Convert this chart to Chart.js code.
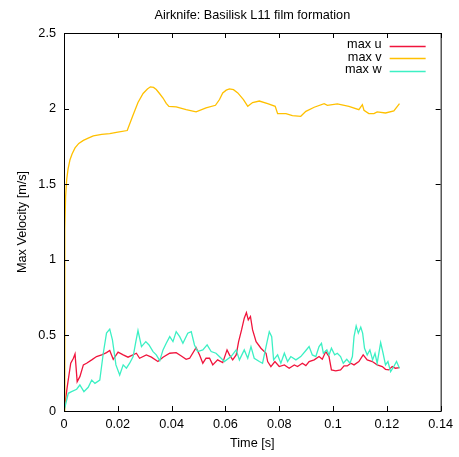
<!DOCTYPE html>
<html>
<head>
<meta charset="utf-8">
<title>Airknife: Basilisk L11 film formation</title>
<script src="https://cdn.jsdelivr.net/npm/chart.js@4.4.1/dist/chart.umd.min.js"></script>
<style>
    html, body { margin: 0; padding: 0; background: #fff; }
</style>
</head>
<body>
<canvas id="velocity_chart" width="459" height="457"></canvas>
<script>
// time [s] and max velocity [m/s] for each component
var uTime = [0, 0.0012, 0.0025, 0.0035, 0.0041, 0.0049, 0.0059, 0.0072, 0.0084, 0.0103,
    0.0121, 0.014, 0.0158, 0.017, 0.0183, 0.0201, 0.022, 0.0238, 0.0269, 0.0281,
    0.0306, 0.0325, 0.0349, 0.0368, 0.0393, 0.0417, 0.0436, 0.0454, 0.0467, 0.0491,
    0.0504, 0.0516, 0.0528, 0.0541, 0.0553, 0.0571, 0.059, 0.0606, 0.0615, 0.0627,
    0.064, 0.0649, 0.066, 0.067, 0.0678, 0.0685, 0.0693, 0.0701, 0.0714, 0.0732,
    0.0751, 0.0757, 0.0769, 0.0784, 0.08, 0.0819, 0.0837, 0.0856, 0.0868, 0.0886,
    0.0899, 0.0911, 0.093, 0.0948, 0.096, 0.0973, 0.0985, 0.0994, 0.101, 0.1028,
    0.1041, 0.1053, 0.1066, 0.1078, 0.1096, 0.1112, 0.1127, 0.1146, 0.1164, 0.1183,
    0.1195, 0.1207, 0.122, 0.1232, 0.1247];
var uMax = [0, 0.16, 0.316, 0.349, 0.377, 0.194, 0.227, 0.305, 0.316, 0.338,
    0.36, 0.371, 0.386, 0.40, 0.342, 0.389, 0.371, 0.356, 0.382, 0.349,
    0.371, 0.356, 0.327, 0.356, 0.382, 0.386, 0.364, 0.342, 0.349, 0.419,
    0.371, 0.316, 0.349, 0.349, 0.305, 0.338, 0.32, 0.404, 0.371, 0.338,
    0.371, 0.459, 0.536, 0.614, 0.651, 0.603, 0.625, 0.536, 0.459, 0.415,
    0.382, 0.327, 0.294, 0.327, 0.294, 0.305, 0.283, 0.305, 0.294, 0.316,
    0.30, 0.327, 0.338, 0.36, 0.342, 0.393, 0.36, 0.272, 0.265, 0.272,
    0.298, 0.298, 0.316, 0.305, 0.327, 0.371, 0.338, 0.327, 0.305, 0.294,
    0.276, 0.272, 0.294, 0.283, 0.287];

var vTime = [0, 0.0003, 0.0006, 0.001, 0.0015, 0.0022, 0.003, 0.0041, 0.0055, 0.0072,
    0.009, 0.0109, 0.014, 0.017, 0.02, 0.0235, 0.0255, 0.0275, 0.0294, 0.031,
    0.0321, 0.0333, 0.0343, 0.0355, 0.0368, 0.038, 0.039, 0.0417, 0.0454, 0.0491,
    0.0528, 0.0563, 0.0578, 0.059, 0.0603, 0.0615, 0.063, 0.0646, 0.0667, 0.0683,
    0.0701, 0.0726, 0.0757, 0.0785, 0.0794, 0.0825, 0.0849, 0.088, 0.0899, 0.093,
    0.0967, 0.0979, 0.1016, 0.1059, 0.1096, 0.1109, 0.1115, 0.1133, 0.1152, 0.1164,
    0.1195, 0.1226, 0.1247];
var vMax = [0, 1.2, 1.42, 1.53, 1.6, 1.66, 1.7, 1.74, 1.77, 1.79,
    1.805, 1.82, 1.83, 1.835, 1.845, 1.855, 1.95, 2.04, 2.10, 2.13,
    2.144, 2.14, 2.126, 2.10, 2.07, 2.035, 2.015, 2.011, 1.993, 1.978,
    2.005, 2.022, 2.06, 2.104, 2.122, 2.13, 2.125, 2.104, 2.06, 2.015,
    2.04, 2.05, 2.033, 2.015, 1.967, 1.967, 1.954, 1.949, 1.982, 2.009,
    2.033, 2.022, 2.031, 2.015, 1.993, 2.026, 1.989, 1.967, 1.967, 1.978,
    1.971, 1.985, 2.033];

var wTime = [0, 0.0016, 0.0028, 0.0047, 0.0059, 0.0074, 0.009, 0.0103, 0.0115, 0.0133,
    0.0146, 0.0158, 0.017, 0.018, 0.0193, 0.0207, 0.022, 0.0232, 0.0244, 0.0257,
    0.0267, 0.0275, 0.0288, 0.0304, 0.0316, 0.0331, 0.0343, 0.0356, 0.0368, 0.038,
    0.0393, 0.0405, 0.0417, 0.043, 0.0442, 0.046, 0.0473, 0.0485, 0.0497, 0.0516,
    0.0532, 0.0547, 0.0565, 0.0584, 0.0596, 0.0621, 0.064, 0.0652, 0.067, 0.0683,
    0.0695, 0.0707, 0.0726, 0.0738, 0.0751, 0.0763, 0.0772, 0.0779, 0.0794, 0.0806,
    0.0819, 0.0831, 0.0843, 0.0862, 0.088, 0.0899, 0.0911, 0.0923, 0.0936, 0.0948,
    0.0957, 0.0964, 0.0977, 0.0985, 0.0994, 0.1006, 0.1016, 0.1028, 0.1038, 0.1051,
    0.1063, 0.1072, 0.1078, 0.1086, 0.1094, 0.1103, 0.111, 0.1117, 0.1127, 0.1137,
    0.1147, 0.1156, 0.1164, 0.1177, 0.1186, 0.1195, 0.1204, 0.1214, 0.1226, 0.1236,
    0.1247];
var wMax = [0, 0.117, 0.128, 0.144, 0.172, 0.128, 0.157, 0.205, 0.183, 0.205,
    0.382, 0.515, 0.541, 0.47, 0.305, 0.238, 0.305, 0.283, 0.316, 0.36,
    0.459, 0.532, 0.426, 0.459, 0.437, 0.393, 0.371, 0.333, 0.404, 0.448,
    0.492, 0.459, 0.525, 0.492, 0.448, 0.515, 0.525, 0.437, 0.393, 0.404,
    0.437, 0.393, 0.382, 0.349, 0.327, 0.36, 0.404, 0.338, 0.404, 0.349,
    0.426, 0.349, 0.327, 0.316, 0.426, 0.525, 0.492, 0.338, 0.371, 0.316,
    0.382, 0.327, 0.36, 0.338, 0.36, 0.40, 0.426, 0.371, 0.36, 0.426,
    0.448, 0.382, 0.404, 0.371, 0.415, 0.371, 0.382, 0.36, 0.316, 0.342,
    0.316, 0.36, 0.492, 0.563, 0.515, 0.554, 0.515, 0.415, 0.371, 0.404,
    0.338, 0.382, 0.316, 0.452, 0.382, 0.305, 0.327, 0.26, 0.294, 0.327,
    0.283];

var xTicks = [0, 0.02, 0.04, 0.06, 0.08, 0.1, 0.12, 0.14];
var yTicks = [0, 0.5, 1, 1.5, 2, 2.5];

var FONT = '"Liberation Sans", Arial, sans-serif';
var tickLen = 5;

function pairs(ts, vs) {
    return ts.map(function (t, i) { return {x: t, y: vs[i]}; });
}

// gnuplot-like frame: closed box with inward ticks on all four sides
var frameTicks = {
    id: 'frameTicks',
    afterDatasetsDraw: function (chart) {
        var ctx = chart.ctx, a = chart.chartArea;
        var xs = chart.scales.x, ys = chart.scales.y;
        ctx.save();
        ctx.strokeStyle = '#000';
        ctx.lineWidth = 1;
        ctx.beginPath();
        xTicks.forEach(function (t) {
            var px = Math.round(xs.getPixelForValue(t)) + 0.5;
            ctx.moveTo(px, a.bottom); ctx.lineTo(px, a.bottom - tickLen);
            ctx.moveTo(px, a.top); ctx.lineTo(px, a.top + tickLen);
        });
        yTicks.forEach(function (v) {
            var py = Math.round(ys.getPixelForValue(v)) + 0.5;
            ctx.moveTo(a.left, py); ctx.lineTo(a.left + tickLen, py);
            ctx.moveTo(a.right, py); ctx.lineTo(a.right - tickLen, py);
        });
        ctx.stroke();
        ctx.strokeRect(a.left + 0.5, a.top + 0.5, a.right - a.left, a.bottom - a.top);
        ctx.restore();
    }
};

// key in the top right corner: label, then a short line sample
var keyBox = {
    id: 'keyBox',
    afterDraw: function (chart) {
        var ctx = chart.ctx, a = chart.chartArea;
        ctx.save();
        ctx.font = '12.7px ' + FONT;
        ctx.textAlign = 'right';
        ctx.textBaseline = 'middle';
        chart.data.datasets.forEach(function (ds, i) {
            var y = a.top + 12.5 + i * 12.5;
            ctx.fillStyle = '#000';
            ctx.fillText(ds.label, a.right - 59, y - 1);
            ctx.strokeStyle = ds.borderColor;
            ctx.lineWidth = 1.3;
            ctx.beginPath();
            ctx.moveTo(a.right - 51, Math.round(y) + 0.5);
            ctx.lineTo(a.right - 15, Math.round(y) + 0.5);
            ctx.stroke();
        });
        ctx.restore();
    }
};

Chart.defaults.color = '#000';
Chart.defaults.font.family = FONT;
Chart.defaults.font.size = 12.7;

var chx = document.getElementById('velocity_chart');
var vChart = new Chart(chx, {
    type: 'line',
    data: {
        datasets: [
            {label: 'max u', data: pairs(uTime, uMax), borderColor: '#f0143c', order: 3},
            {label: 'max v', data: pairs(vTime, vMax), borderColor: '#ffc000', order: 2},
            {label: 'max w', data: pairs(wTime, wMax), borderColor: '#3cf0c4', order: 1}
        ]
    },
    options: {
        responsive: false,
        animation: false,
        devicePixelRatio: 1,
        layout: {padding: {left: 0, right: 17, top: 0, bottom: 0}},
        elements: {
            line: {borderWidth: 1.3, tension: 0, fill: false},
            point: {radius: 0, hoverRadius: 0}
        },
        scales: {
            x: {
                type: 'linear',
                min: 0,
                max: 0.14,
                afterBuildTicks: function (s) { s.ticks = xTicks.map(function (v) { return {value: v}; }); },
                afterFit: function (s) { s.height = 46; },
                ticks: {padding: 6, maxRotation: 0, callback: function (v) { return String(v); }},
                grid: {display: false, drawTicks: false},
                border: {display: false},
                title: {display: true, text: 'Time [s]', font: {lineHeight: '15px'}, padding: {top: 0, bottom: 6}}
            },
            y: {
                type: 'linear',
                min: 0,
                max: 2.5,
                afterBuildTicks: function (s) { s.ticks = yTicks.map(function (v) { return {value: v}; }); },
                afterFit: function (s) { s.width = 64; },
                ticks: {padding: 8, callback: function (v) { return String(v); }},
                grid: {display: false, drawTicks: false},
                border: {display: false},
                title: {display: true, text: 'Max Velocity [m/s]', font: {lineHeight: '15px'}, padding: {top: 15, bottom: 0}}
            }
        },
        plugins: {
            legend: {display: false},
            tooltip: {enabled: false},
            title: {
                display: true,
                text: 'Airknife: Basilisk L11 film formation',
                fullSize: false,
                font: {weight: 'normal', lineHeight: '15px'},
                padding: {top: 8, bottom: 10}
            }
        }
    },
    plugins: [frameTicks, keyBox]
});
</script>
</body>
</html>
